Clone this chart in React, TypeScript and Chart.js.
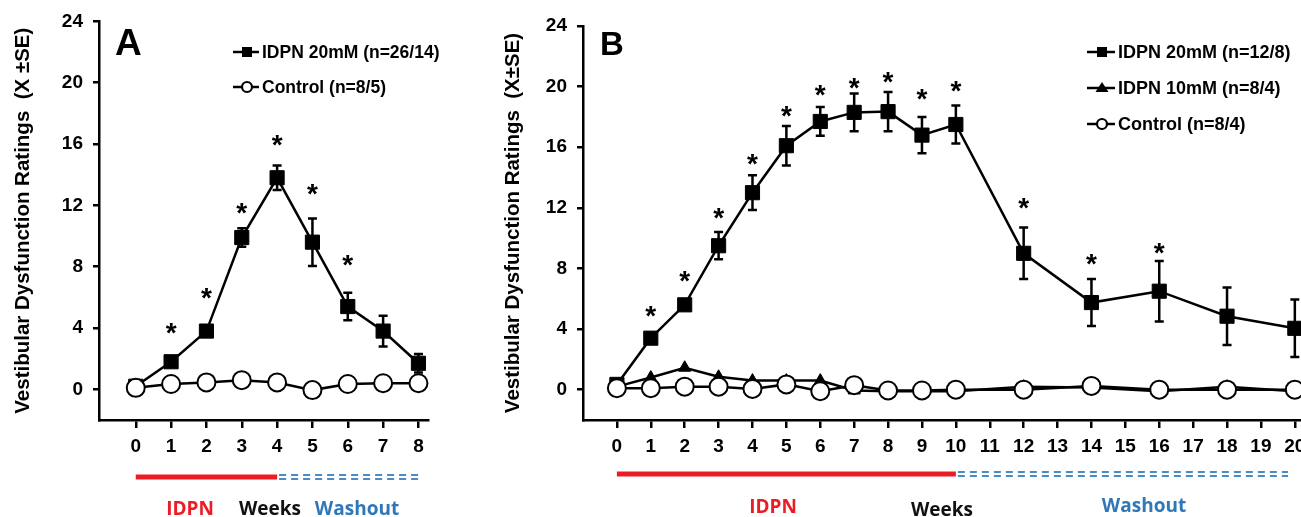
import React, { useEffect, useRef } from 'react';
import { Chart, registerables } from 'chart.js';

Chart.register(...registerables);

// ---------- Panel A data ----------
const weeksA = [0, 1, 2, 3, 4, 5, 6, 7, 8];
const idpn20A = [0.2, 1.8, 3.8, 9.9, 13.8, 9.6, 5.4, 3.8, 1.7];
const idpn20SeA = [0.2, 0.3, 0.3, 0.6, 0.8, 1.55, 0.9, 1.0, 0.6];
const controlA = [0.1, 0.35, 0.45, 0.6, 0.45, -0.05, 0.35, 0.4, 0.4];
const starA = [null, 4.17, 6.46, 12.0, 16.4, 13.2, 8.6, null, null];
const xTicksA = [0, 1, 2, 3, 4, 5, 6, 7, 8];
const legendA = ['IDPN 20mM (n=26/14)', 'Control (n=8/5)'];
const phaseA = { idpn: [0, 4], washout: [4, 8.1] };

// ---------- Panel B data ----------
const weeksB = [0, 1, 2, 3, 4, 5, 6, 7, 8, 9, 10, 12, 14, 16, 18, 20];
const idpn20B = [0.35, 3.4, 5.6, 9.5, 13.0, 16.1, 17.7, 18.3, 18.35, 16.8, 17.5, 9.0, 5.75, 6.5, 4.85, 4.05];
const idpn20SeB = [0.2, 0.3, 0.3, 0.9, 1.15, 1.3, 0.95, 1.25, 1.3, 1.2, 1.25, 1.7, 1.55, 2.0, 1.9, 1.9];
const idpn10B = [0.2, 0.8, 1.45, 0.85, 0.6, 0.6, 0.6, -0.05, -0.1, -0.1, -0.1, 0.2, 0.15, -0.1, 0.2, -0.1];
const controlB = [0.1, 0.1, 0.2, 0.2, 0.05, 0.35, -0.1, 0.3, -0.05, -0.05, 0, 0, 0.25, 0, 0, 0];
const starB = [null, 5.34, 7.65, 11.8, 15.4, 18.55, 19.9, 20.4, 20.75, 19.65, 20.2, 12.5, 8.75, 9.5, null, null];
const xTicksB = [0, 1, 2, 3, 4, 5, 6, 7, 8, 9, 10, 11, 12, 13, 14, 15, 16, 17, 18, 19, 20];
const legendB = ['IDPN 20mM (n=12/8)', 'IDPN 10mM (n=8/4)', 'Control (n=8/4)'];
const phaseB = { idpn: [0, 10], washout: [10, 19.8] };

const yTicks = [0, 4, 8, 12, 16, 20, 24];
const phaseLabels = ['IDPN', 'Weeks', 'Washout'];

const AXIS_FONT = 'Liberation Sans, Arial, sans-serif';
const RED = '#ec1c24';
const BLUE = '#2e78b8';

function pts(xs: number[], ys: number[]) {
  return xs.map((x, i) => ({ x, y: ys[i] }));
}

function drawMarker(ctx: CanvasRenderingContext2D, style: string, cx: number, cy: number, s: number) {
  ctx.save();
  ctx.lineWidth = 2.2;
  ctx.strokeStyle = '#000';
  ctx.beginPath();
  if (style === 'rect') {
    ctx.fillStyle = '#000';
    ctx.rect(cx - s / 2, cy - s / 2, s, s);
    ctx.fill();
  } else if (style === 'triangle') {
    ctx.fillStyle = '#000';
    ctx.moveTo(cx, cy - s * 0.6);
    ctx.lineTo(cx + s * 0.65, cy + s * 0.4);
    ctx.lineTo(cx - s * 0.65, cy + s * 0.4);
    ctx.closePath();
    ctx.fill();
  } else {
    ctx.fillStyle = '#fff';
    ctx.arc(cx, cy, s / 2, 0, Math.PI * 2);
    ctx.fill();
    ctx.stroke();
  }
  ctx.restore();
}

function makeExtras(p: any) {
  return {
    id: 'extras',
    beforeDatasetsDraw(chart: any) {
      const { ctx } = chart;
      const x = chart.scales.x;
      const y = chart.scales.y;
      ctx.save();
      ctx.strokeStyle = '#000';
      ctx.lineWidth = 2.5;
      const cap = 4.5;
      p.errXs.forEach((xv: number, i: number) => {
        const px = x.getPixelForValue(xv);
        const top = y.getPixelForValue(p.errYs[i] + p.errSe[i]);
        const bot = y.getPixelForValue(p.errYs[i] - p.errSe[i]);
        ctx.beginPath();
        ctx.moveTo(px, top);
        ctx.lineTo(px, bot);
        ctx.moveTo(px - cap, top);
        ctx.lineTo(px + cap, top);
        ctx.moveTo(px - cap, bot);
        ctx.lineTo(px + cap, bot);
        ctx.stroke();
      });
      ctx.restore();
    },
    afterDraw(chart: any) {
      const { ctx } = chart;
      const x = chart.scales.x;
      const y = chart.scales.y;
      ctx.save();
      // asterisks
      const starSize = 28;
      ctx.fillStyle = '#000';
      ctx.font = `bold ${starSize}px ${AXIS_FONT}`;
      ctx.textAlign = 'center';
      ctx.textBaseline = 'alphabetic';
      p.errXs.forEach((xv: number, i: number) => {
        const sv = p.stars[i];
        if (sv === null || sv === undefined) return;
        const px = x.getPixelForValue(xv);
        const py = y.getPixelForValue(sv);
        ctx.fillText('*', px, py + starSize * 0.58);
      });
      // panel letter
      ctx.font = `bold ${p.letterSize}px ${AXIS_FONT}`;
      ctx.textAlign = 'left';
      ctx.fillText(p.letter, p.letterX, 55);
      // legend
      ctx.font = `bold ${p.legendSize}px ${AXIS_FONT}`;
      ctx.textBaseline = 'middle';
      p.legend.forEach((item: any, i: number) => {
        const ry = p.legendRows[i];
        ctx.strokeStyle = '#000';
        ctx.lineWidth = 2.5;
        ctx.beginPath();
        ctx.moveTo(p.legendLine[0], ry);
        ctx.lineTo(p.legendLine[1], ry);
        ctx.stroke();
        drawMarker(ctx, item.style, p.legendMarkerX, ry, 10);
        ctx.fillStyle = '#000';
        ctx.fillText(item.label, p.legendTextX, ry + 1);
      });
      // phase bars
      const x0 = x.getPixelForValue(p.phase.idpn[0]);
      const x1 = x.getPixelForValue(p.phase.idpn[1]);
      const x2 = x.getPixelForValue(p.phase.washout[1]);
      ctx.strokeStyle = RED;
      ctx.lineWidth = 5;
      ctx.beginPath();
      ctx.moveTo(x0, p.phaseY);
      ctx.lineTo(x1, p.phaseY);
      ctx.stroke();
      ctx.strokeStyle = '#4a8cc6';
      ctx.lineWidth = 1.8;
      ctx.setLineDash([7, 5]);
      ctx.beginPath();
      ctx.moveTo(x1 + 2, p.phaseY - 2);
      ctx.lineTo(x2, p.phaseY - 2);
      ctx.moveTo(x1 + 2, p.phaseY + 2);
      ctx.lineTo(x2, p.phaseY + 2);
      ctx.stroke();
      ctx.setLineDash([]);
      // phase labels
      ctx.font = `bold 19px 'Open Sans', sans-serif`;
      ctx.textAlign = 'center';
      ctx.textBaseline = 'alphabetic';
      const colors = [RED, '#111', BLUE];
      phaseLabels.forEach((t, i) => {
        ctx.fillStyle = colors[i];
        ctx.fillText(t, p.labelX[i], p.labelY[i]);
      });
      ctx.restore();
    },
  };
}

function buildConfig(p: any) {
  const tickFont = { family: AXIS_FONT, weight: 'bold' as const, size: 19 };
  return {
    type: 'line' as const,
    data: { datasets: p.datasets },
    options: {
      responsive: true,
      maintainAspectRatio: false,
      animation: false as const,
      layout: { padding: { left: 0, top: p.top, right: p.right, bottom: 0 } },
      plugins: { legend: { display: false }, tooltip: { enabled: false } },
      elements: { line: { tension: 0 } },
      scales: {
        x: {
          type: 'linear' as const,
          min: p.xMin,
          max: p.xMax,
          afterBuildTicks: (s: any) => {
            s.ticks = p.xTicks.map((v: number) => ({ value: v }));
          },
          afterFit: (s: any) => {
            s.height = 97;
          },
          grid: { drawOnChartArea: false, drawTicks: true, tickLength: 8, color: '#000', tickColor: '#000', lineWidth: 2.5 },
          border: { display: true, color: '#000', width: 2.5 },
          ticks: { font: tickFont, color: '#000', padding: 7, maxRotation: 0, autoSkip: false },
        },
        y: {
          type: 'linear' as const,
          min: -2,
          max: 24,
          afterBuildTicks: (s: any) => {
            s.ticks = yTicks.map((v) => ({ value: v }));
          },
          afterFit: (s: any) => {
            s.width = p.yWidth;
          },
          grid: { drawOnChartArea: false, drawTicks: true, tickLength: 6, color: '#000', tickColor: '#000', lineWidth: 2.5 },
          border: { display: true, color: '#000', width: 2.5 },
          ticks: { font: tickFont, color: '#000', padding: 10 },
          title: {
            display: true,
            text: p.yTitle,
            color: '#000',
            font: { family: AXIS_FONT, weight: 'bold' as const, size: 20.5, lineHeight: 1.2 },
            padding: { top: 11, bottom: 0 },
          },
        },
      },
    },
    plugins: [makeExtras(p)],
  };
}

const lineBase = { borderColor: '#000', borderWidth: 2.5, tension: 0, clip: false as const };

export default function App() {
  const refA = useRef<HTMLCanvasElement>(null);
  const refB = useRef<HTMLCanvasElement>(null);

  useEffect(() => {
    const circle = { pointStyle: 'circle', pointRadius: 9, pointBackgroundColor: '#fff', pointBorderColor: '#000', pointBorderWidth: 2 };
    const square = { pointStyle: 'rect', pointRadius: 10, pointBackgroundColor: '#000', pointBorderColor: '#000', pointBorderWidth: 1 };
    const tri = { pointStyle: 'triangle', pointRadius: 7, pointBackgroundColor: '#000', pointBorderColor: '#000', pointBorderWidth: 1 };

    const a = new Chart(refA.current as HTMLCanvasElement, buildConfig({
      datasets: [
        { ...lineBase, ...circle, label: legendA[1], data: pts(weeksA, controlA) },
        { ...lineBase, ...square, label: legendA[0], data: pts(weeksA, idpn20A) },
      ],
      top: 21,
      right: 32,
      yWidth: 99,
      xMin: -1.04,
      xMax: 8.27,
      xTicks: xTicksA,
      yTitle: 'Vestibular Dysfunction Ratings  (X ±SE)',
      errXs: weeksA,
      errYs: idpn20A,
      errSe: idpn20SeA,
      stars: starA,
      letter: 'A',
      letterX: 115,
      letterSize: 37,
      legend: [
        { label: legendA[0], style: 'rect' },
        { label: legendA[1], style: 'circle' },
      ],
      legendRows: [52, 87],
      legendLine: [233, 259],
      legendMarkerX: 247,
      legendTextX: 262,
      legendSize: 17.5,
      phase: phaseA,
      phaseY: 477,
      labelX: [190, 270, 357],
      labelY: [515, 515, 515],
    }) as any);

    const b = new Chart(refB.current as HTMLCanvasElement, buildConfig({
      datasets: [
        { ...lineBase, ...circle, label: legendB[2], data: pts(weeksB, controlB) },
        { ...lineBase, ...tri, label: legendB[1], data: pts(weeksB, idpn10B) },
        { ...lineBase, ...square, label: legendB[0], data: pts(weeksB, idpn20B) },
      ],
      top: 26,
      right: 20,
      yWidth: 93,
      xMin: -1.0,
      xMax: 20.3,
      xTicks: xTicksB,
      yTitle: 'Vestibular Dysfunction Ratings  (X\u00B1SE)',
      errXs: weeksB,
      errYs: idpn20B,
      errSe: idpn20SeB,
      stars: starB,
      letter: 'B',
      letterX: 110,
      letterSize: 33,
      legend: [
        { label: legendB[0], style: 'rect' },
        { label: legendB[1], style: 'triangle' },
        { label: legendB[2], style: 'circle' },
      ],
      legendRows: [52, 88, 124],
      legendLine: [597, 625],
      legendMarkerX: 612,
      legendTextX: 628,
      legendSize: 18,
      phase: phaseB,
      phaseY: 474,
      labelX: [283, 452, 654],
      labelY: [513, 516, 512],
    }) as any);

    return () => {
      a.destroy();
      b.destroy();
    };
  }, []);

  return (
    <div style={{ position: 'fixed', left: 0, top: 0, width: 1301, height: 517, overflow: 'hidden', background: '#fff' }}>
      <div style={{ position: 'absolute', left: 0, top: 0, width: 460, height: 517 }}>
        <canvas ref={refA} />
      </div>
      <div style={{ position: 'absolute', left: 490, top: 0, width: 835, height: 517 }}>
        <canvas ref={refB} />
      </div>
    </div>
  );
}
